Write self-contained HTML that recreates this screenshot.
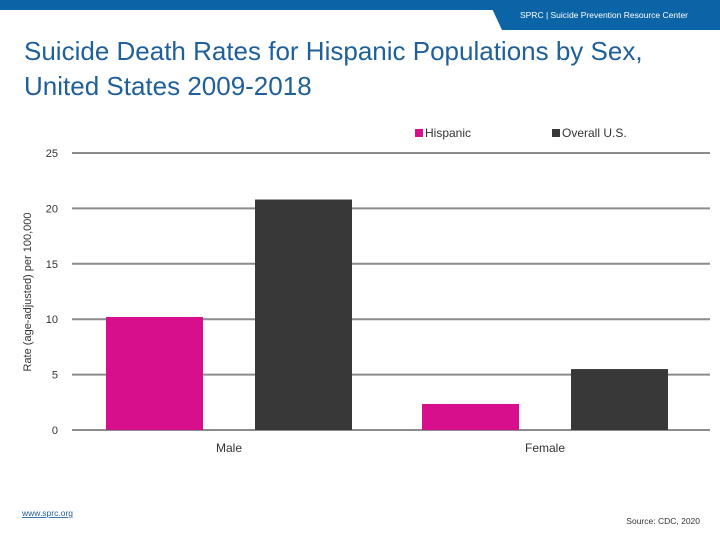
<!DOCTYPE html>
<html><head><meta charset="utf-8"><style>
html,body{margin:0;padding:0;background:#fff;}
body{width:720px;height:540px;overflow:hidden;font-family:"Liberation Sans",sans-serif;}
</style></head><body>
<svg id="chart" width="720" height="540" xmlns="http://www.w3.org/2000/svg">
  <rect x="0" y="0" width="720" height="10" fill="#0b64a6"/>
  <polygon points="488,0 720,0 720,30 502,30" fill="#0b64a6"/>
  <text x="604" y="18" font-size="8.5" fill="#fff" text-anchor="middle">SPRC  |  Suicide Prevention Resource Center</text>
  <text x="24" y="60" font-size="26" fill="#1f5f9a">Suicide Death Rates for Hispanic Populations by Sex,</text>
  <text x="24" y="95" font-size="26" fill="#1f5f9a">United States 2009-2018</text>
  <g>
    <rect x="415" y="129" width="8" height="8" fill="#d80f8c"/>
    <text x="425" y="137" font-size="12" fill="#333">Hispanic</text>
    <rect x="552" y="129" width="8" height="8" fill="#383838"/>
    <text x="562" y="137" font-size="12" fill="#333">Overall U.S.</text>
  </g>
  <text transform="translate(31,292) rotate(-90)" font-size="11" fill="#333" text-anchor="middle">Rate (age-adjusted) per 100,000</text>
  <g id="grid"></g>
  <g id="bars"></g>
  <g id="xlabels"></g>
  <text x="22" y="516" font-size="8.5" fill="#1f5f9a" text-decoration="underline">www.sprc.org</text>
  <text x="700" y="524" font-size="8.5" fill="#333" text-anchor="end">Source: CDC, 2020</text>
</svg>
<script>
const categories = ["Male", "Female"];
const hispanic = [10.2, 2.35];
const overall = [20.8, 5.5];
const ticks = [0, 5, 10, 15, 20, 25];
const NS = "http://www.w3.org/2000/svg";
const gridX0 = 72, gridX1 = 710;
const bandX0 = 71, bandX1 = 703;
const yZero = 430, yTop = 153, yMax = 25;
function y(v){ return yZero - (v / yMax) * (yZero - yTop); }
const groupW = (bandX1 - bandX0) / categories.length;
function gx(i){ return bandX0 + groupW * i + groupW / 2; }
const grid = document.getElementById('grid');
ticks.forEach(t => {
  const l = document.createElementNS(NS, 'line');
  l.setAttribute('x1', gridX0); l.setAttribute('x2', gridX1);
  l.setAttribute('y1', y(t)); l.setAttribute('y2', y(t));
  l.setAttribute('stroke', '#8c8c8c'); l.setAttribute('stroke-width', '2');
  
  
  grid.appendChild(l);
  const tx = document.createElementNS(NS, 'text');
  tx.setAttribute('x', 58); tx.setAttribute('y', y(t) + 4);
  tx.setAttribute('font-size', '11'); tx.setAttribute('fill', '#333');
  tx.setAttribute('text-anchor', 'end');
  tx.textContent = t;
  
  
  grid.appendChild(tx);
});
const bars = document.getElementById('bars');
const bw = 97;
categories.forEach((c, i) => {
  const cx = gx(i);
  [[hispanic, '#d80f8c', -123, 'hispanic'], [overall, '#383838', 26, 'overall']].forEach(s => {
    const v = s[0][i];
    const r = document.createElementNS(NS, 'rect');
    r.setAttribute('x', cx + s[2]); r.setAttribute('width', bw);
    r.setAttribute('y', y(v)); r.setAttribute('height', yZero - y(v));
    r.setAttribute('fill', s[1]);
    
    
    bars.appendChild(r);
  });
  const lb = document.createElementNS(NS, 'text');
  lb.setAttribute('x', cx); lb.setAttribute('y', 452);
  lb.setAttribute('font-size', '12'); lb.setAttribute('fill', '#333');
  lb.setAttribute('text-anchor', 'middle');
  lb.textContent = c;
  
  
  document.getElementById('xlabels').appendChild(lb);
});
</script>
</body></html>
